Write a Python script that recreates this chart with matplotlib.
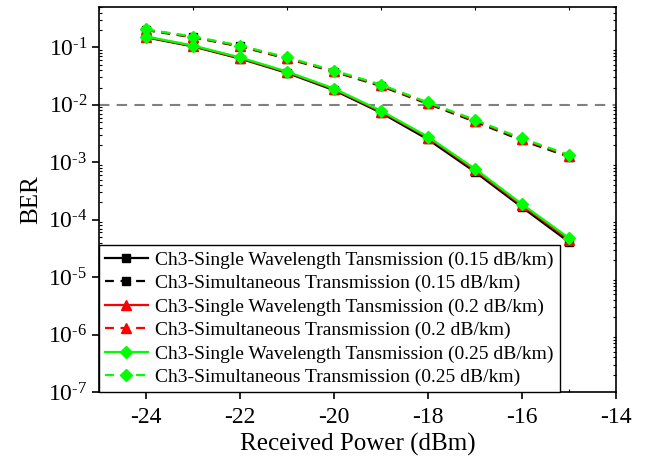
import numpy as np
import matplotlib.pyplot as plt
from matplotlib.ticker import LogLocator, NullFormatter, MultipleLocator, FuncFormatter

plt.rcParams['font.family'] = ['Liberation Serif', 'DejaVu Serif']
plt.rcParams['mathtext.fontset'] = 'custom'
plt.rcParams['mathtext.rm'] = 'Liberation Serif'
plt.rcParams['axes.unicode_minus'] = False

power = [-24, -23, -22, -21, -20, -19, -18, -17, -16, -15]

# BER, single wavelength transmission
single_015 = [0.150, 0.104, 0.064, 0.036, 0.0180, 0.0073, 0.0025, 6.8e-4, 1.65e-4, 4.1e-5]
single_020 = [0.152, 0.106, 0.065, 0.037, 0.0187, 0.0076, 0.0027, 7.3e-4, 1.78e-4, 4.5e-5]
single_025 = [0.155, 0.108, 0.067, 0.038, 0.0192, 0.0079, 0.00278, 7.7e-4, 1.87e-4, 4.8e-5]

# BER, simultaneous transmission
simul_015 = [0.200, 0.150, 0.104, 0.064, 0.0378, 0.0212, 0.0104, 0.0051, 0.0024, 0.00125]
simul_020 = [0.203, 0.152, 0.106, 0.065, 0.0385, 0.0218, 0.0107, 0.0053, 0.0025, 0.00130]
simul_025 = [0.206, 0.155, 0.108, 0.067, 0.0396, 0.0225, 0.0110, 0.0055, 0.0026, 0.00135]

fec_limit = 1e-2

fig = plt.figure(figsize=(6.48, 4.63), dpi=100)
ax = fig.add_axes([0.1528, 0.1533, 0.7978, 0.8317])

ax.axhline(fec_limit, color='#808080', lw=1.5, ls=(0, (5, 3.5)), zorder=1)

series = [
    (single_015, '-', 'k', 's', 6, 'Ch3-Single Wavelength Tansmission (0.15 dB/km)'),
    (simul_015, '--', 'k', 's', 6, 'Ch3-Simultaneous Transmission (0.15 dB/km)'),
    (single_020, '-', 'red', '^', 7, 'Ch3-Single Wavelength Tansmission (0.2 dB/km)'),
    (simul_020, '--', 'red', '^', 7, 'Ch3-Simultaneous Transmission (0.2 dB/km)'),
    (single_025, '-', '#00ff00', 'D', 6, 'Ch3-Single Wavelength Tansmission (0.25 dB/km)'),
    (simul_025, '--', '#00ff00', 'D', 6, 'Ch3-Simultaneous Transmission (0.25 dB/km)'),
]
for y, ls, c, m, ms, lab in series:
    ax.plot(power, y, ls=ls, color=c, marker=m, ms=ms, lw=1.6, label=lab,
            dashes=(4, 3) if ls == '--' else (None, None))

ax.set_yscale('log')
ax.set_xlim(-25, -14)
ax.set_ylim(1e-7, 0.507)
ax.xaxis.set_major_locator(MultipleLocator(2))
ax.xaxis.set_minor_locator(MultipleLocator(1))
ax.yaxis.set_major_locator(LogLocator(base=10, numticks=20))
ax.yaxis.set_minor_locator(LogLocator(base=10, subs=np.arange(2, 10), numticks=20))
ax.yaxis.set_minor_formatter(NullFormatter())
ax.yaxis.set_major_formatter(FuncFormatter(
    lambda v, pos: r'$\mathdefault{10^{\text{-}%d}}$' % round(-np.log10(v))))

ax.tick_params(which='major', direction='out', length=5, width=1.2, labelsize=17,
               top=False, right=False)
ax.tick_params(axis='x', which='major', pad=6)
ax.tick_params(which='minor', direction='in', length=2, width=0.8,
               top=True, right=True)
for s in ax.spines.values():
    s.set_linewidth(1.2)

ax.set_xlabel('Received Power (dBm)', fontsize=18, labelpad=3)
ax.set_ylabel('BER', fontsize=18)

leg = ax.legend(loc='lower left', fontsize=14, frameon=True, fancybox=False,
                edgecolor='black', framealpha=1, borderaxespad=0, labelspacing=0.3,
                handlelength=2.2, handletextpad=0.4, borderpad=0.3)
leg.get_frame().set_linewidth(1.0)

fig.savefig('out.png', dpi=100)
